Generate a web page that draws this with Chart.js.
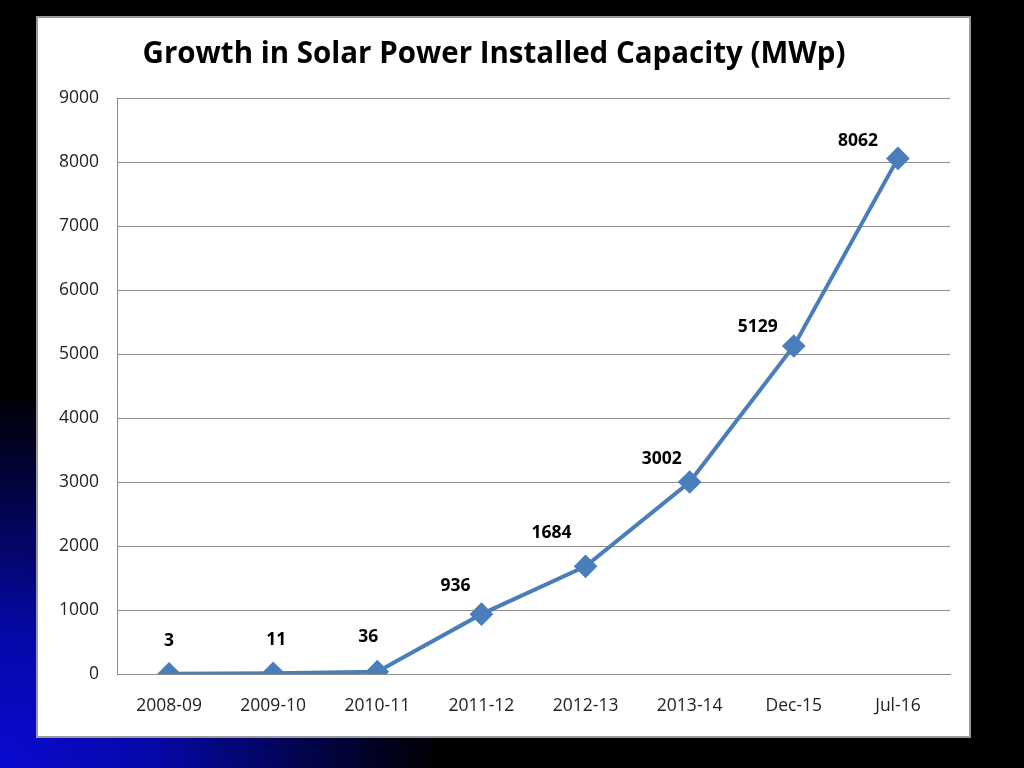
<!DOCTYPE html>
<html>
<head>
<meta charset="utf-8">
<script src="https://cdn.jsdelivr.net/npm/chart.js@4"></script>
<style>
  html, body { margin: 0; padding: 0; }
  body {
    width: 1024px; height: 768px; overflow: hidden;
    background: radial-gradient(ellipse 440px 380px at 0% 100%, #0a0ad0 0%, #0608a8 35%, #02044a 70%, #000 100%), #000;
  }
  #panel {
    position: absolute; left: 36px; top: 16px;
    width: 931px; height: 718px;
    background: #fff; border: 2px solid #9a9a9a;
  }
  canvas { display: block; }
</style>
</head>
<body>
<div id="panel"><canvas id="chart" width="931" height="718"></canvas></div>
<script>
// Data dari gambar
const categories = ["2008-09", "2009-10", "2010-11", "2011-12", "2012-13", "2013-14", "Dec-15", "Jul-16"];
const capacity = [3, 11, 36, 936, 1684, 3002, 5129, 8062];
const yTicks = [0, 1000, 2000, 3000, 4000, 5000, 6000, 7000, 8000, 9000];

// posisi label (dx, dy) relatif ke titik
const labelOffsets = [[0, -33], [3, -33], [-9, -35], [-26, -28], [-34, -33], [-28, -23], [-36, -19], [-40, -17]];

const FONT = "'Open Sans', 'Noto Sans', sans-serif";

// plugin sederhana untuk menulis nilai di atas titik
const valueLabels = {
  id: "valueLabels",
  afterDatasetsDraw(chart) {
    const ctx = chart.ctx;
    const meta = chart.getDatasetMeta(0);
    ctx.save();
    ctx.font = "bold 17.5px " + FONT;
    ctx.fillStyle = "#000";
    ctx.textAlign = "center";
    ctx.textBaseline = "middle";
    meta.data.forEach((pt, i) => {
      const off = labelOffsets[i];
      ctx.fillText(String(capacity[i]), pt.x + off[0], pt.y + off[1]);
    });
    ctx.restore();
  }
};

new Chart(document.getElementById("chart"), {
  type: "line",
  data: {
    labels: categories,
    datasets: [{
      data: capacity,
      borderColor: "#4a7ebb",
      backgroundColor: "#4a7ebb",
      borderWidth: 4,
      pointStyle: "rectRot",
      pointRadius: 9,
      pointHoverRadius: 9,
      tension: 0
    }]
  },
  options: {
    responsive: false,
    animation: false,
    layout: { padding: { left: 0, right: 19, top: 0, bottom: 0 } },
    plugins: {
      legend: { display: false },
      tooltip: { enabled: false },
      title: {
        display: true,
        text: "Growth in Solar Power Installed Capacity (MWp)",
        color: "#000",
        font: { family: FONT, size: 29.5, weight: "bold" },
        padding: { top: 19, bottom: 26 }
      }
    },
    scales: {
      x: {
        offset: true,
        grid: { display: false, drawTicks: false },
        border: { display: true, color: "#8c8c8c", width: 1 },
        ticks: { color: "#222", font: { family: FONT, size: 17.5 }, padding: 22 },
        afterFit(scale) { scale.height = 62; }
      },
      y: {
        min: 0,
        max: 9000,
        afterBuildTicks(scale) { scale.ticks = yTicks.map(v => ({ value: v })); },
        grid: { color: "#8c8c8c", drawTicks: false },
        border: { display: true, color: "#8c8c8c", width: 1 },
        ticks: { color: "#222", font: { family: FONT, size: 17.5 }, padding: 18, callback: v => String(v) },
        afterFit(scale) { scale.width = 79; }
      }
    }
  },
  plugins: [valueLabels]
});
</script>
</body>
</html>
